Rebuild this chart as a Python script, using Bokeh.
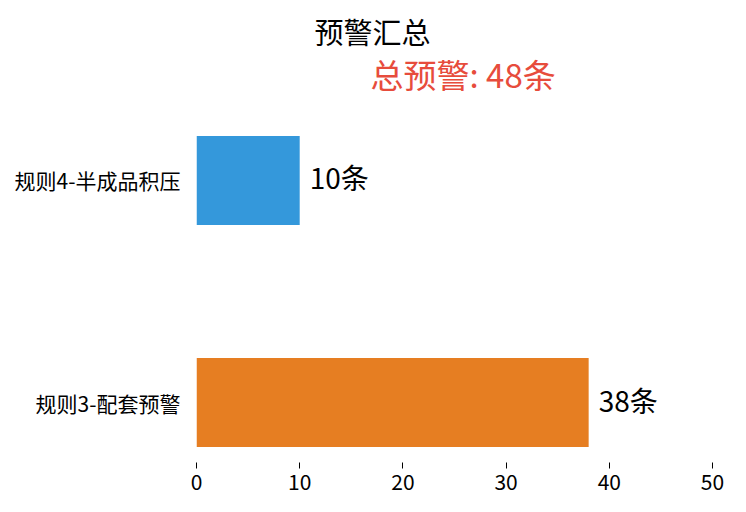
from bokeh.plotting import figure
from bokeh.models import ColumnDataSource, Range1d, FixedTicker, Title, LabelSet
from bokeh.core.properties import value
from bokeh.embed import file_html
from bokeh.resources import INLINE

# data
categories = ["规则3-配套预警", "规则4-半成品积压"]
values = [38, 10]
colors = ["#e67e22", "#3498db"]
title_text = "预警汇总"
total_text = "总预警: 48条"
x_ticks = [0, 10, 20, 30, 40, 50]

FONT = "Noto Sans CJK SC"

positions = list(range(len(categories)))
source = ColumnDataSource(dict(
    y=positions,
    v=values,
    c=colors,
    lbl=[f"{v}条" for v in values],
))

W, H = 746, 512
p = figure(width=W, height=H, output_backend="svg", toolbar_location=None,
           x_range=Range1d(0, 50), y_range=Range1d(-0.27, len(categories) - 1 + 0.27),
           min_border_left=196, min_border_right=34, min_border_top=120, min_border_bottom=50)
p.outline_line_color = None
p.xgrid.visible = False
p.ygrid.visible = False
p.background_fill_color = "white"
p.border_fill_color = "white"

p.hbar(y="y", right="v", left=0, height=0.4, fill_color="c", line_color=None, source=source)

labels = LabelSet(x="v", y="y", text="lbl", source=source, x_offset=10, y_offset=3,
                  text_baseline="middle", text_align="left",
                  text_font=value(FONT), text_font_size=value("28px"), text_color=value("black"))
p.add_layout(labels)

# axes
p.xaxis.ticker = FixedTicker(ticks=x_ticks)
p.xaxis.axis_line_color = None
p.xaxis.major_tick_in = 0
p.xaxis.major_tick_out = 6
p.xaxis.major_tick_line_color = "black"
p.xaxis.minor_tick_line_color = None
p.xaxis.major_label_standoff = 5
p.xaxis.major_label_text_font = FONT
p.xaxis.major_label_text_font_size = "21px"
p.xaxis.major_label_text_color = "black"

p.yaxis.ticker = FixedTicker(ticks=positions)
p.yaxis.major_label_overrides = {i: c for i, c in zip(positions, categories)}
p.yaxis.axis_line_color = None
p.yaxis.major_tick_line_color = None
p.yaxis.minor_tick_line_color = None
p.yaxis.major_tick_in = 0
p.yaxis.major_tick_out = 0
p.yaxis.major_label_standoff = 16
p.yaxis.major_label_text_font = FONT
p.yaxis.major_label_text_font_size = "21px"
p.yaxis.major_label_text_color = "black"

# main title (outermost)
p.title.text = title_text
p.title.align = "left"
p.title.offset = 118
p.title.text_font = FONT
p.title.text_font_size = "29px"
p.title.text_font_style = "normal"
p.title.text_color = "black"
p.title.standoff = -8

# spacer panel between the frame and the red total line
spacer = Title(text=" ", align="left", text_font=FONT, text_font_size="1px", standoff=20)
p.add_layout(spacer, "above")

# red total line
total_title = Title(text=total_text, align="left", offset=174, text_font=FONT,
                    text_font_size="33px", text_font_style="normal", text_color="#e74c3c",
                    standoff=0)
p.add_layout(total_title, "above")

open("out.html", "w").write(file_html(p, INLINE))
